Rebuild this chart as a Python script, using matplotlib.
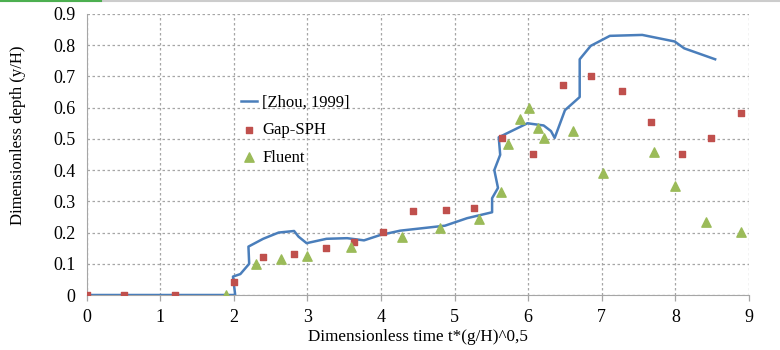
import numpy as np
import matplotlib
matplotlib.use("Agg")
import matplotlib.pyplot as plt
from matplotlib.lines import Line2D

plt.rcParams['font.family'] = ['Liberation Serif', 'DejaVu Serif']

# [Zhou, 1999] curve
zhou_x = [0.0, 2.02, 1.99, 2.09, 2.21, 2.20, 2.40, 2.61, 2.82, 2.88, 2.99, 3.26,
          3.54, 3.77, 3.99, 4.26, 4.87, 5.17, 5.51, 5.51, 5.59, 5.54, 5.62, 5.60,
          5.99, 6.21, 6.31, 6.36, 6.50, 6.70, 6.70, 6.85, 7.11, 7.55, 7.99, 8.12, 8.54]
zhou_y = [0.0, 0.0, 0.059, 0.067, 0.10, 0.155, 0.18, 0.20, 0.205, 0.187, 0.166, 0.18,
          0.182, 0.175, 0.192, 0.206, 0.222, 0.246, 0.265, 0.31, 0.343, 0.40, 0.449, 0.505,
          0.55, 0.543, 0.525, 0.503, 0.592, 0.634, 0.755, 0.798, 0.83, 0.833, 0.812, 0.79, 0.755]

# Gap-SPH points
sph_x = [0.0, 0.51, 1.20, 2.01, 2.40, 2.82, 3.25, 3.63, 4.03, 4.43, 4.88, 5.26,
         5.65, 6.06, 6.47, 6.86, 7.27, 7.67, 8.09, 8.49, 8.89]
sph_y = [0.0, 0.0, 0.0, 0.042, 0.122, 0.132, 0.152, 0.169, 0.202, 0.269, 0.271, 0.278,
         0.504, 0.453, 0.671, 0.703, 0.653, 0.553, 0.453, 0.503, 0.583]

# Fluent points
fl_x = [1.90, 2.30, 2.64, 3.00, 3.60, 4.29, 4.80, 5.33, 5.63, 5.72, 5.89, 6.01,
        6.13, 6.22, 6.61, 7.01, 7.71, 8.00, 8.41, 8.89]
fl_y = [0.0, 0.098, 0.116, 0.125, 0.155, 0.187, 0.214, 0.243, 0.329, 0.483, 0.563, 0.60,
        0.535, 0.502, 0.526, 0.39, 0.458, 0.349, 0.233, 0.201]

fig = plt.figure(figsize=(7.8, 3.5), dpi=100)
ax = fig.add_axes([86.5 / 780, 55 / 350, (749 - 86.5) / 780, (295 - 14) / 350])

ax.plot(zhou_x, zhou_y, color='#4a7ebb', lw=1.8, label='[Zhou, 1999]', zorder=3)
ax.scatter(sph_x, sph_y, marker='s', s=22, color='#c0504d', label='Gap-SPH', zorder=4)
ax.scatter(fl_x, fl_y, marker='^', s=45, color='#9bbb59', label='Fluent', zorder=4)

ax.set_xlim(0, 9)
ax.set_ylim(0, 0.9)
ax.set_xticks(np.arange(0, 10, 1))
ax.set_yticks(np.arange(0, 0.95, 0.1))
ax.set_yticklabels(['0'] + ['%.1f' % v for v in np.arange(0.1, 0.95, 0.1)])

ax.grid(True, color='#a6a6a6', ls=(0, (2, 2)), lw=0.9)
ax.set_axisbelow(True)
for s in ['top', 'right']:
    ax.spines[s].set_visible(False)
for s in ['left', 'bottom']:
    ax.spines[s].set_color('#a6a6a6')
ax.tick_params(axis='both', colors='#a6a6a6', labelcolor='black', labelsize=13,
               length=4, width=0.9)
ax.tick_params(axis='x', pad=6)
ax.tick_params(axis='y', length=0, pad=8)

ax.set_xlabel('Dimensionless time t*(g/H)^0,5', fontsize=12.3, labelpad=2)
ax.set_ylabel('Dimensionless depth (y/H)', fontsize=12)
ax.yaxis.set_label_coords(-0.092, 0.568)

ax.legend(loc='upper left', bbox_to_anchor=(0.215, 0.755), frameon=False, fontsize=12,
          handlelength=1.0, handletextpad=0.3, labelspacing=0.7, borderpad=0.2)

# screenshot frame lines at the top
fig.add_artist(Line2D([0, 1], [0.997, 0.997], color='#cccccc', lw=1.5))
fig.add_artist(Line2D([0, 0.13], [0.997, 0.997], color='#4caf50', lw=1.5))

fig.savefig('out.png', dpi=100)
